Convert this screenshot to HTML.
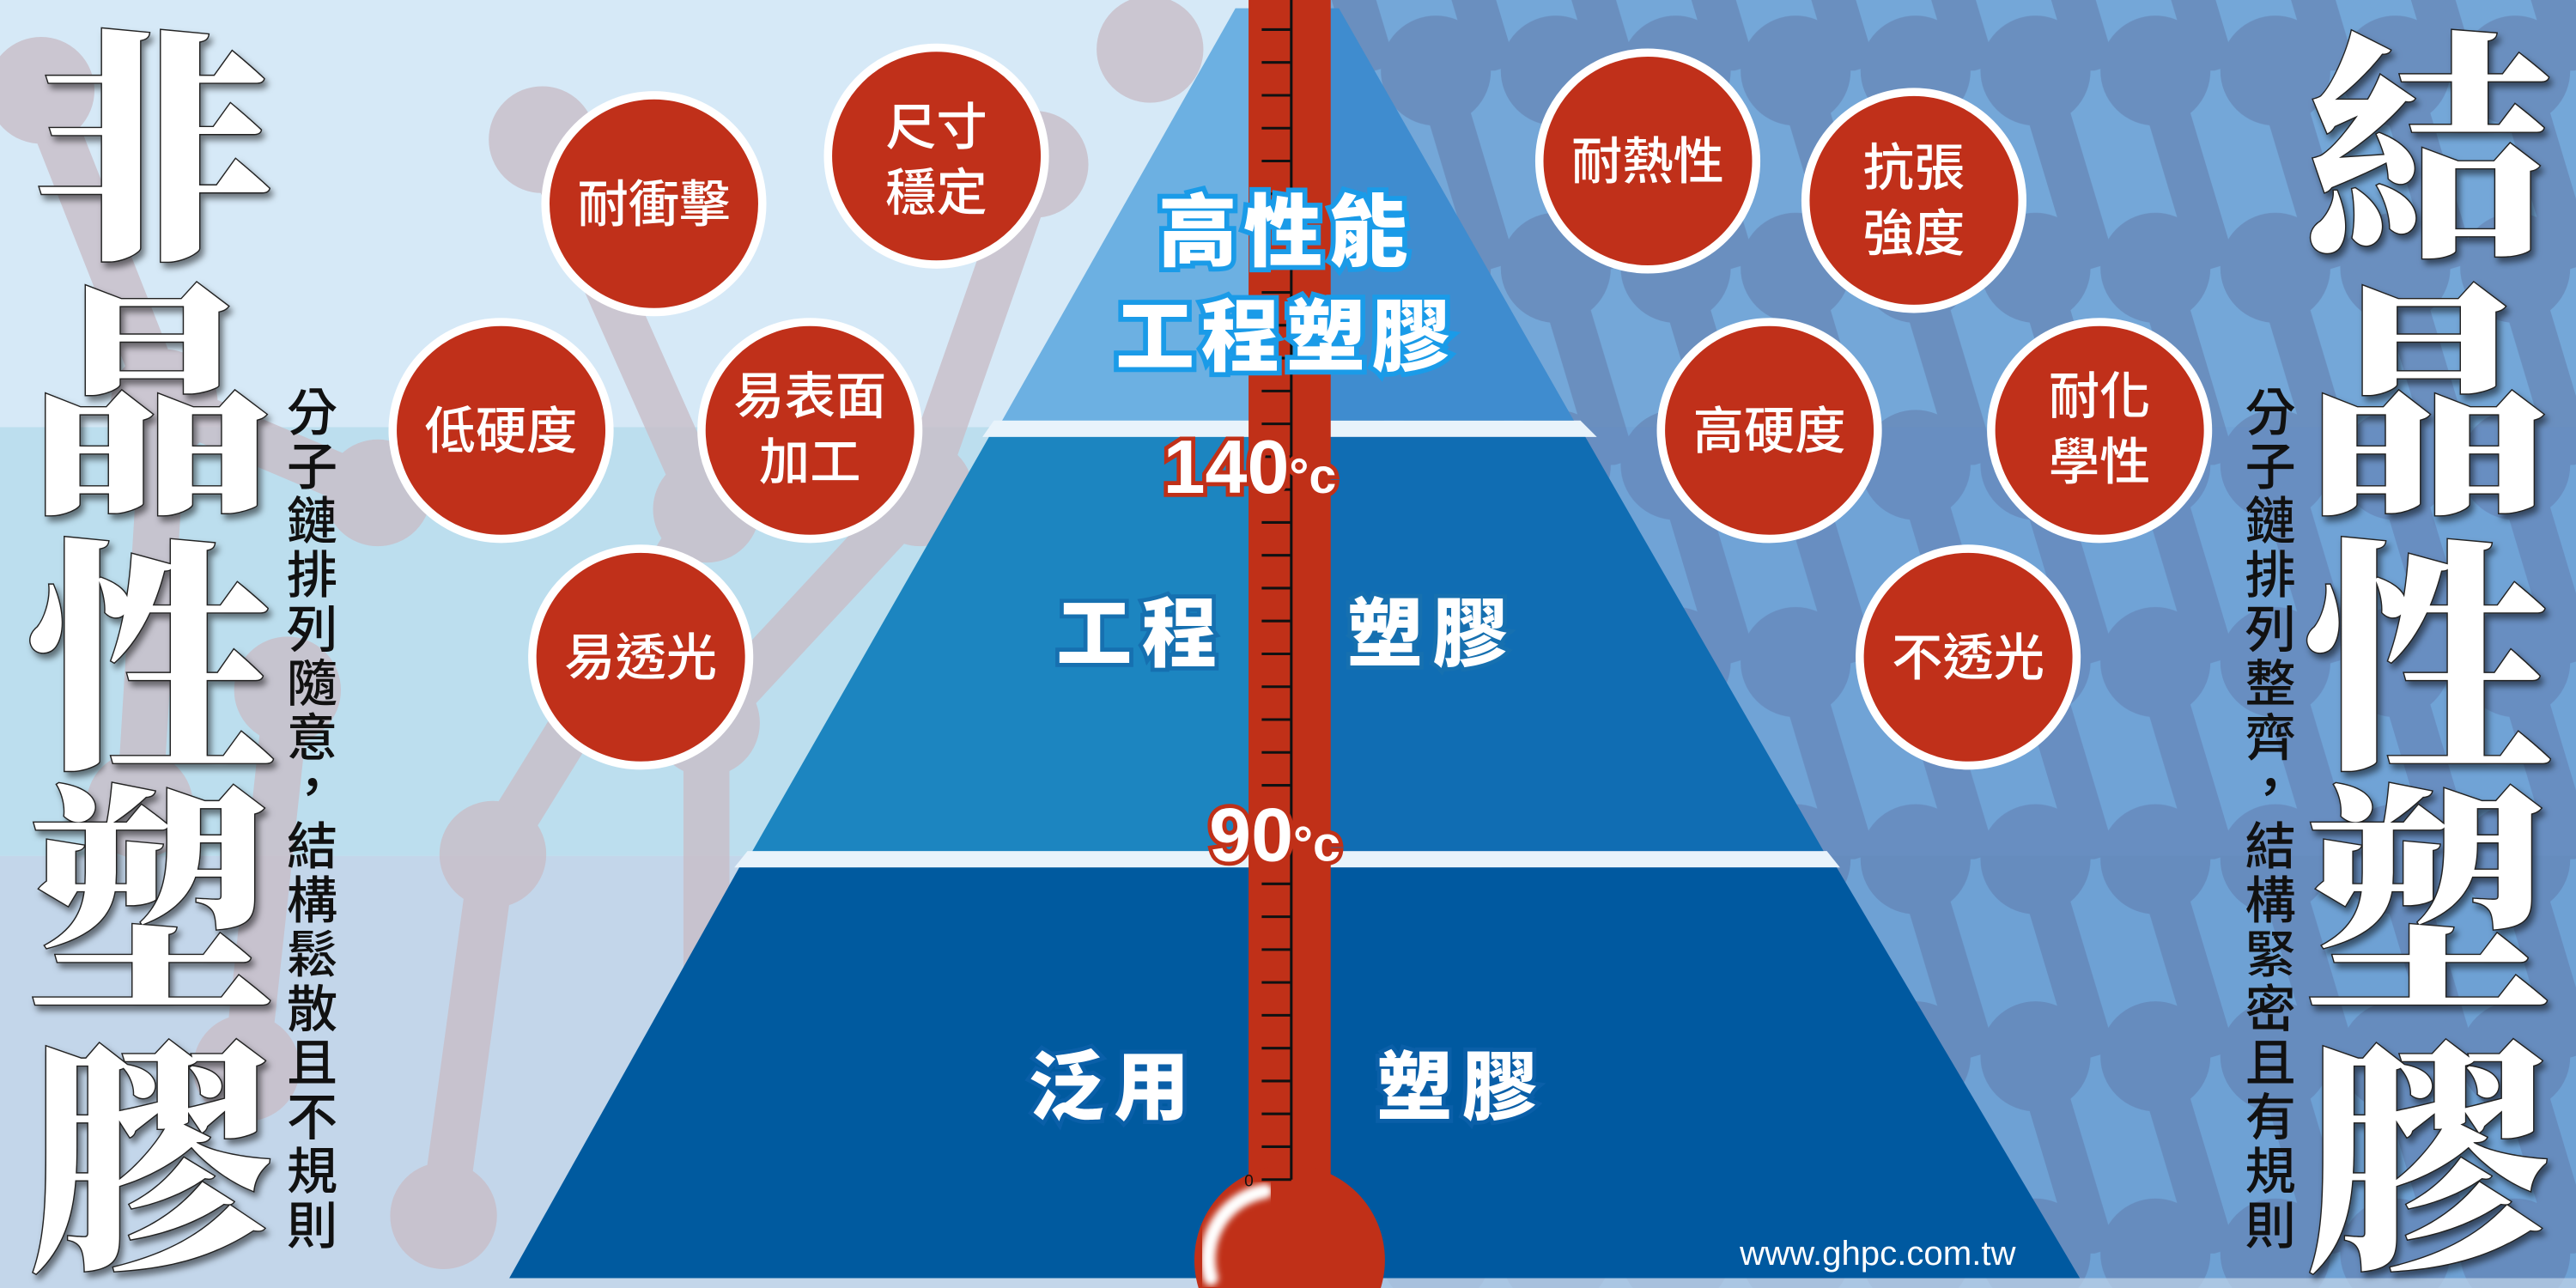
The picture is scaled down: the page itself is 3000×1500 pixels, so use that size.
<!DOCTYPE html>
<html><head><meta charset="utf-8"><style>
html,body{margin:0;padding:0;background:#d6e9f7;width:3000px;height:1500px;overflow:hidden}
svg{display:block}
.big{font-family:"Noto Serif CJK SC","Noto Sans CJK TC",serif;font-weight:900;fill:#fff;stroke:#222;stroke-width:1.5;paint-order:stroke;filter:url(#sh)}
.sm{font-family:"Liberation Sans","Noto Sans CJK TC",sans-serif;font-size:31px;fill:#111;font-weight:500}
.ct{font-family:"Liberation Sans","Noto Sans CJK TC",sans-serif;font-size:31px;fill:#fff;text-anchor:middle;font-weight:500}
.py{font-family:"Liberation Sans","Noto Sans CJK TC",sans-serif;font-weight:900;fill:#fff;paint-order:stroke;text-anchor:middle}
</style></head><body>
<svg width="3000" height="1500" viewBox="0 0 1568 784" xmlns="http://www.w3.org/2000/svg">
<defs>
<filter id="sh" x="-20%" y="-20%" width="140%" height="140%"><feDropShadow dx="2" dy="3" stdDeviation="2" flood-color="#000" flood-opacity="0.5"/></filter>
<filter id="bl"><feGaussianBlur stdDeviation="2"/></filter>
<pattern id="pr" x="1239" y="43" width="73" height="240" patternUnits="userSpaceOnUse">
 <g fill="#6a8fbf" stroke="#6a8fbf">
 <circle cx="0" cy="0" r="33"/><circle cx="73" cy="0" r="33"/>
 <circle cx="0" cy="120" r="33"/><circle cx="73" cy="120" r="33"/>
 <circle cx="0" cy="240" r="33"/><circle cx="73" cy="240" r="33"/>
 <line x1="0" y1="0" x2="36" y2="120" stroke-width="26"/>
 <line x1="73" y1="0" x2="109" y2="120" stroke-width="26"/>
 <line x1="-73" y1="0" x2="-37" y2="120" stroke-width="26"/>
 <line x1="0" y1="120" x2="36" y2="240" stroke-width="26"/>
 <line x1="-73" y1="120" x2="-37" y2="240" stroke-width="26"/>
 <line x1="73" y1="120" x2="109" y2="240" stroke-width="26"/>
 </g>
</pattern>
</defs>
<rect x="0" y="0" width="784" height="260" fill="#d6e9f7"/>
<rect x="0" y="260" width="784" height="261" fill="#bcdeee"/>
<rect x="0" y="521" width="784" height="263" fill="#c3d6ea"/>
<rect x="784" y="0" width="784" height="784" fill="#74a7d8"/>
<rect x="784" y="0" width="784" height="784" fill="url(#pr)"/>
<rect x="784" y="260" width="784" height="261" fill="#5c8fd0" opacity="0.15"/>
<rect x="784" y="521" width="784" height="263" fill="#4a7fc0" opacity="0.12"/>
<g fill="#c9bec8" stroke="#c9bec8" opacity="0.8" stroke-linecap="round">
 <g stroke-width="28">
 <line x1="25" y1="55" x2="100" y2="245"/><line x1="100" y1="245" x2="85" y2="490"/>
 <line x1="330" y1="85" x2="430" y2="310"/><line x1="430" y1="310" x2="300" y2="520"/>
 <line x1="300" y1="520" x2="270" y2="740"/><line x1="630" y1="100" x2="560" y2="300"/>
 <line x1="560" y1="300" x2="430" y2="440"/><line x1="430" y1="440" x2="430" y2="640"/>
 <line x1="150" y1="650" x2="175" y2="420"/><line x1="555" y1="420" x2="520" y2="620"/>
 <line x1="640" y1="420" x2="690" y2="600"/><line x1="100" y1="245" x2="230" y2="300"/>
 </g>
 <circle cx="25" cy="55" r="32"/><circle cx="330" cy="85" r="32"/><circle cx="100" cy="245" r="32"/>
 <circle cx="430" cy="310" r="32"/><circle cx="85" cy="490" r="32"/><circle cx="300" cy="520" r="32"/>
 <circle cx="270" cy="740" r="32"/><circle cx="630" cy="100" r="32"/><circle cx="560" cy="300" r="32"/>
 <circle cx="430" cy="440" r="32"/><circle cx="430" cy="640" r="32"/><circle cx="150" cy="650" r="32"/>
 <circle cx="175" cy="420" r="32"/><circle cx="520" cy="620" r="32"/><circle cx="640" cy="420" r="32"/>
 <circle cx="690" cy="600" r="32"/><circle cx="230" cy="300" r="32"/><circle cx="700" cy="30" r="32"/>
</g>
<polygon points="605,256 962,256 972,266 598,266" fill="#e8f3fb"/>
<polygon points="455,518 1112,518 1120,528 447,528" fill="#e8f3fb"/>
<polygon points="752,5 785,5 785,256 610,256" fill="#6cb0e2"/>
<polygon points="785,5 815,5 958,256 785,256" fill="#3f8ccf"/>
<polygon points="602,266 785,266 785,518 458,518" fill="#1c85c0"/>
<polygon points="785,266 965,266 1110,518 785,518" fill="#106db3"/>
<polygon points="450,528 785,528 785,778 310,778" fill="#005a9f"/>
<polygon points="785,528 1118,528 1266,778 785,778" fill="#0059a0"/>
<rect x="0" y="778" width="1568" height="6" fill="#c3d6ea" opacity="0.7"/>
<rect x="760" y="0" width="50" height="730" fill="#c03018"/>
<circle cx="785" cy="767" r="58" fill="#c03018"/>
<path d="M770 725 A42 42 0 0 0 737 778" fill="none" stroke="#fff" stroke-width="9" stroke-linecap="round" filter="url(#bl)"/>
<g stroke="#111" stroke-width="1.6">
<line x1="786" y1="0" x2="786" y2="718"/>
<line x1="768" y1="718" x2="786" y2="718"/>
<line x1="768" y1="698" x2="786" y2="698"/><line x1="768" y1="678" x2="786" y2="678"/>
<line x1="768" y1="658" x2="786" y2="658"/><line x1="768" y1="638" x2="786" y2="638"/>
<line x1="768" y1="618" x2="786" y2="618"/><line x1="768" y1="598" x2="786" y2="598"/>
<line x1="768" y1="578" x2="786" y2="578"/><line x1="768" y1="558" x2="786" y2="558"/>
<line x1="768" y1="538" x2="786" y2="538"/><line x1="768" y1="518" x2="786" y2="518"/>
<line x1="768" y1="498" x2="786" y2="498"/><line x1="768" y1="478" x2="786" y2="478"/>
<line x1="768" y1="458" x2="786" y2="458"/><line x1="768" y1="438" x2="786" y2="438"/>
<line x1="768" y1="418" x2="786" y2="418"/><line x1="768" y1="398" x2="786" y2="398"/>
<line x1="768" y1="378" x2="786" y2="378"/><line x1="768" y1="358" x2="786" y2="358"/>
<line x1="768" y1="338" x2="786" y2="338"/><line x1="768" y1="318" x2="786" y2="318"/>
<line x1="768" y1="298" x2="786" y2="298"/><line x1="768" y1="278" x2="786" y2="278"/>
<line x1="768" y1="258" x2="786" y2="258"/><line x1="768" y1="238" x2="786" y2="238"/>
<line x1="768" y1="218" x2="786" y2="218"/><line x1="768" y1="198" x2="786" y2="198"/>
<line x1="768" y1="178" x2="786" y2="178"/><line x1="768" y1="158" x2="786" y2="158"/>
<line x1="768" y1="138" x2="786" y2="138"/><line x1="768" y1="118" x2="786" y2="118"/>
<line x1="768" y1="98" x2="786" y2="98"/><line x1="768" y1="78" x2="786" y2="78"/>
<line x1="768" y1="58" x2="786" y2="58"/><line x1="768" y1="38" x2="786" y2="38"/>
<line x1="768" y1="18" x2="786" y2="18"/>
</g>
<text x="763" y="722" font-family="Liberation Sans" font-size="10" fill="#111" text-anchor="end">0</text>
<g font-family="Liberation Sans,sans-serif" font-weight="700" fill="#fff" stroke="#c03018" stroke-width="5" paint-order="stroke">
<text x="708" y="300" font-size="46">140<tspan font-size="30">°c</tspan></text>
<text x="736" y="524" font-size="46">90<tspan font-size="30">°c</tspan></text>
</g>
<g class="py" stroke="#1a9be8" stroke-width="6" font-size="48" letter-spacing="4">
<text x="783" y="158">高性能</text>
<text x="783" y="222">工程塑膠</text>
</g>
<g class="py" stroke="#1670b0" stroke-width="5" font-size="46" letter-spacing="6">
<text x="695" y="402">工程</text><text x="872" y="402">塑膠</text>
</g>
<g class="py" stroke="#0a5fa8" stroke-width="5" font-size="46" letter-spacing="6">
<text x="678" y="678">泛用</text><text x="890" y="678">塑膠</text>
</g>
<g fill="#c0301a" stroke="#fff" stroke-width="5">
<circle cx="398" cy="124" r="66"/><circle cx="570" cy="95" r="66"/>
<circle cx="305" cy="262" r="66"/><circle cx="493" cy="262" r="66"/>
<circle cx="390" cy="400" r="66"/>
<circle cx="1003" cy="98" r="66"/><circle cx="1165" cy="122" r="66"/>
<circle cx="1077" cy="262" r="66"/><circle cx="1278" cy="262" r="66"/>
<circle cx="1198" cy="400" r="66"/>
</g>
<g class="ct">
<text x="398" y="135">耐衝擊</text>
<text x="570" y="88">尺寸</text><text x="570" y="128">穩定</text>
<text x="305" y="273">低硬度</text>
<text x="493" y="252">易表面</text><text x="493" y="292">加工</text>
<text x="390" y="411">易透光</text>
<text x="1003" y="109">耐熱性</text>
<text x="1165" y="113">抗張</text><text x="1165" y="153">強度</text>
<text x="1077" y="273">高硬度</text>
<text x="1278" y="252">耐化</text><text x="1278" y="292">學性</text>
<text x="1198" y="411">不透光</text>
</g>
<g class="big" font-size="150" text-anchor="middle">
<text x="92" y="145">非</text><text x="92" y="300">晶</text><text x="92" y="455">性</text>
<text x="92" y="605">塑</text><text x="92" y="760">膠</text>
<text x="1478" y="145">結</text><text x="1478" y="300">晶</text><text x="1478" y="455">性</text>
<text x="1478" y="605">塑</text><text x="1478" y="760">膠</text>
</g>
<g class="sm" text-anchor="middle">
<text x="190" y="262">分</text><text x="190" y="295">子</text><text x="190" y="328">鏈</text>
<text x="190" y="361">排</text><text x="190" y="394">列</text><text x="190" y="427">隨</text>
<text x="190" y="460">意</text><text x="190" y="490">，</text><text x="190" y="526">結</text>
<text x="190" y="559">構</text><text x="190" y="592">鬆</text><text x="190" y="625">散</text>
<text x="190" y="658">且</text><text x="190" y="691">不</text><text x="190" y="724">規</text>
<text x="190" y="757">則</text>
<text x="1382" y="262">分</text><text x="1382" y="295">子</text><text x="1382" y="328">鏈</text>
<text x="1382" y="361">排</text><text x="1382" y="394">列</text><text x="1382" y="427">整</text>
<text x="1382" y="460">齊</text><text x="1382" y="490">，</text><text x="1382" y="526">結</text>
<text x="1382" y="559">構</text><text x="1382" y="592">緊</text><text x="1382" y="625">密</text>
<text x="1382" y="658">且</text><text x="1382" y="691">有</text><text x="1382" y="724">規</text>
<text x="1382" y="757">則</text>
</g>
<text x="1143" y="770" font-family="Liberation Sans,sans-serif" font-size="21" fill="#fff" text-anchor="middle">www.ghpc.com.tw</text>
</svg>
</body></html>
